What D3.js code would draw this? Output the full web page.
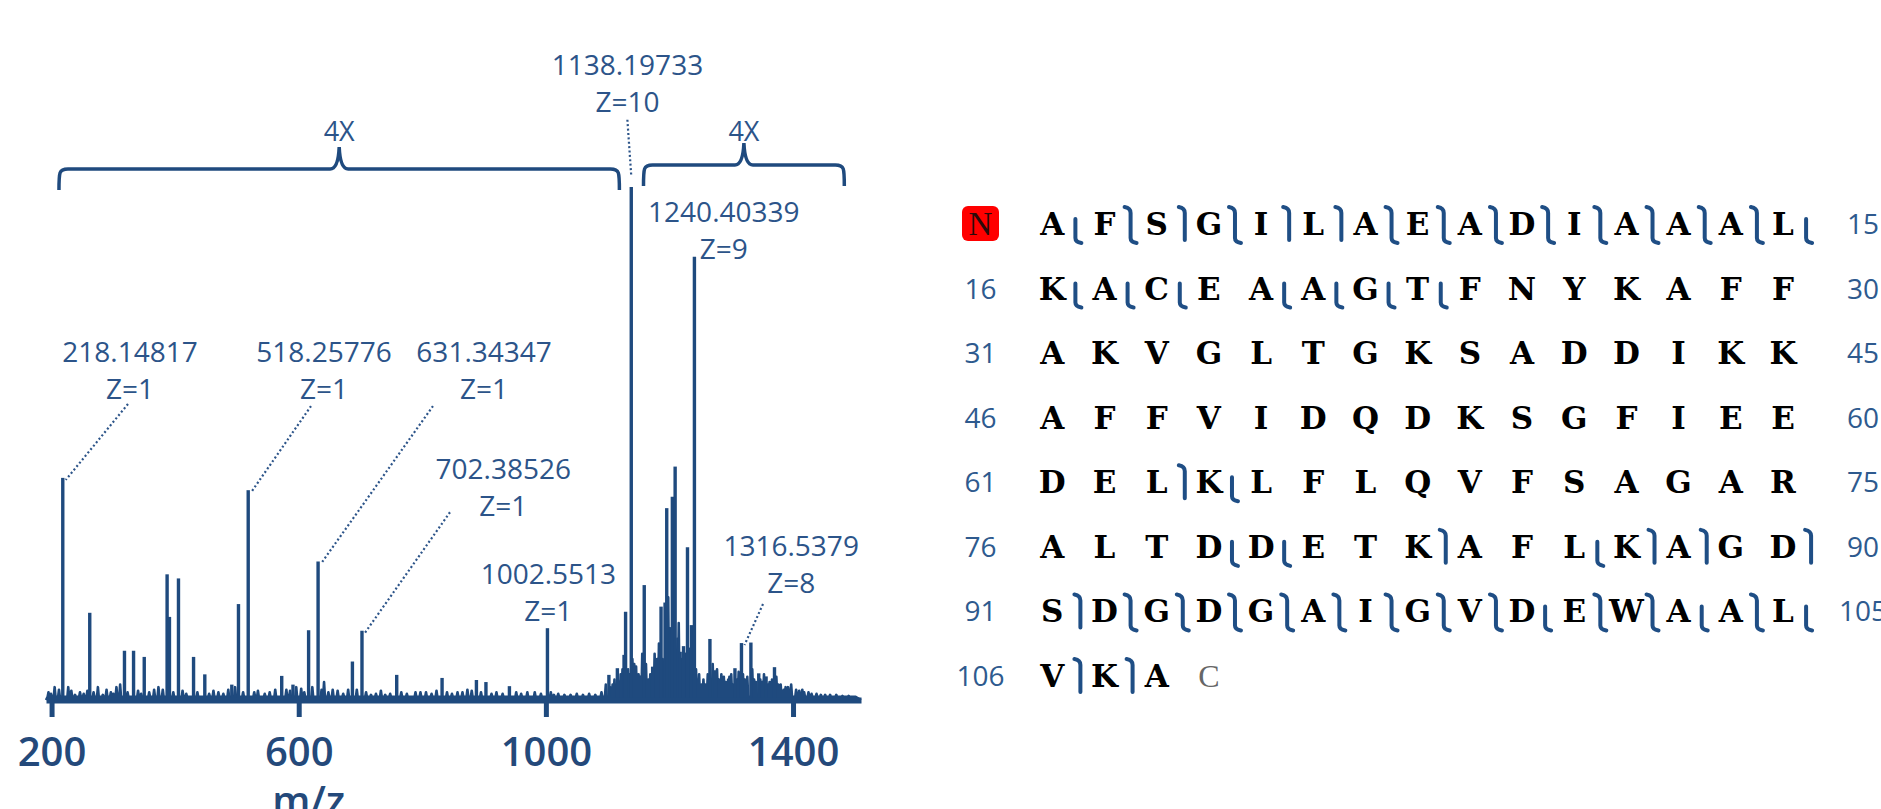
<!DOCTYPE html>
<html>
<head>
<meta charset="utf-8">
<script src="https://cdn.jsdelivr.net/npm/d3@7"></script>
<style>
  html, body { margin: 0; padding: 0; background: #fff; }
  svg { display: block; }
</style>
</head>
<body>
<div class="chart"></div>
<script>
var svgWidth = 1881;
var svgHeight = 809;

// ---- spectrum: centroid peaks (m/z, relative intensity %) ----
var peakMz = [218.148, 261.8, 318.0, 332.7, 350.0, 387.0, 390.8, 405.4, 429.8, 448.0,
  491.7, 502.5, 518.258, 572.5, 590.7, 616.0, 631.343, 686.9, 702.385, 758.6,
  832.0, 887.6, 903.0, 941.0, 1002.551, 1102.0, 1115.7, 1126.5, 1129.0, 1138.197,
  1159.2, 1172.8, 1186.4, 1192.9, 1195.6, 1204.7, 1209.2, 1217.3, 1222.8, 1229.2,
  1235.6, 1240.403, 1265.5, 1274.6, 1306.0, 1316.538, 1331.8, 1344.5, 1356.4, 1370.0];
var peakInt = [43.3, 17, 9.6, 9.6, 8.4, 24.5, 16.2, 23.7, 8.4, 5,
  3, 18.7, 40.9, 4.7, 3, 13.6, 27, 7.5, 13.5, 4.9,
  4.3, 3.9, 3.5, 2.7, 14, 4.9, 6.2, 8.8, 17.2, 100,
  22.4, 6.5, 18.2, 19, 37.4, 39.6, 45.5, 9.4, 10.5, 29.8,
  14.6, 86.4, 11.9, 5.8, 6.2, 11.1, 11.2, 5.2, 4.6, 6.4];

// small peaks of the noise floor
var noiseMz = [195, 199, 205, 212, 227, 232, 238, 246, 252, 258, 268, 275, 283, 289, 296,
  300, 305, 311, 323, 340, 345, 358, 366, 373, 380, 397, 412, 418, 436, 455,
  462, 470, 478, 486, 497, 510, 528, 534, 545, 553, 562, 580, 586, 596, 604,
  609, 622, 637, 641, 648, 655, 663, 672, 680, 694, 709, 717, 725, 733, 740,
  748, 766, 775, 789, 797, 806, 815, 823, 840, 848, 857, 865, 873, 880, 895,
  912, 920, 930, 952, 960, 970, 982, 992, 1008, 1013, 1020, 1030, 1040, 1050, 1060,
  1070, 1080, 1090, 1097, 1104, 1108, 1111, 1118, 1121, 1124, 1133, 1136, 1140, 1143, 1146,
  1150, 1153, 1156, 1162, 1166, 1169, 1176, 1180, 1183, 1189, 1198, 1201, 1207, 1213, 1215,
  1220, 1226, 1232, 1238, 1243, 1245, 1248, 1252, 1255, 1258, 1262, 1268, 1270, 1277, 1280,
  1284, 1288, 1291, 1295, 1297, 1300, 1303, 1309, 1312, 1319, 1322, 1326, 1334, 1337, 1340,
  1347, 1350, 1353, 1359, 1362, 1366, 1373, 1376, 1380, 1385, 1388, 1392, 1397, 1405, 1410,
  1415, 1418, 1425, 1430, 1438, 1445, 1452, 1460, 1470, 1480, 1490, 1500];
var noiseInt = [1.5, 1.2, 2.5, 2, 2.5, 1.8, 1, 1.5, 1.2, 1.8, 1.5, 2.5, 1, 2, 1.5,
  1.2, 2.5, 3, 1.5, 1.8, 1.2, 1.5, 2, 2.5, 2, 1.5, 1.8, 1.2, 1.5, 1.2,
  1.8, 1.5, 1.2, 2, 2.5, 1.5, 1.5, 1.8, 1.2, 1.5, 2, 2, 1.8, 2.5, 2.2,
  1.5, 2.5, 2, 3.5, 1.5, 2, 1.8, 1.2, 2, 2, 1.5, 1, 1.2, 1.8, 1,
  1.2, 1.5, 1.2, 1.5, 1.5, 1.5, 1.2, 1.8, 1.5, 1.2, 1.5, 1.5, 2, 1.8, 1.5,
  1.2, 1.5, 1.2, 1.5, 1.2, 1.5, 1.5, 1.2, 1.5, 1, 1.2, 1, 1, 1.2, 1,
  1.2, 1, 1.5, 3, 2.5, 3, 4, 3.5, 5, 6, 6, 5, 8, 7, 6.5,
  5, 4.5, 9, 7, 4, 5, 9, 8, 11, 8, 20, 14, 12, 12, 15,
  8, 9, 10, 7, 6, 4, 5, 3, 4, 3, 5, 4, 7, 6, 4,
  5, 4.5, 3.5, 4, 4.5, 5, 3, 4, 5.5, 5, 4, 4.5, 6, 4, 3.5,
  4, 3.5, 5, 3, 3.5, 4, 4.5, 3, 3, 2, 2.5, 2.5, 3, 2, 1.8,
  2, 1.5, 1.5, 1.2, 1.2, 1, 1, 1, 1, 0.8, 0.8, 0.6];

var xTicks = [200, 600, 1000, 1400];

// annotated peaks
var annoMz = [218.14817, 518.25776, 631.34347, 702.38526, 1002.5513, 1138.19733, 1240.40339, 1316.5379];
var annoInt = [43.3, 40.9, 27, 13.5, 14, 100, 86.4, 11.1];
var annoMass = ["218.14817", "518.25776", "631.34347", "702.38526", "1002.5513", "1138.19733", "1240.40339", "1316.5379"];
var annoZ = ["Z=1", "Z=1", "Z=1", "Z=1", "Z=1", "Z=10", "Z=9", "Z=8"];

// zoom brackets (m/z ranges)
var braceFrom = [212, 1158];
var braceTo = [1119, 1483];
var braceText = ["4X", "4X"];

// ---- sequence coverage map ----
var seqRows = ["AFSGILAEADIAAAL", "KACEAAGTFNYKAFF", "AKVGLTGKSADDIKK", "AFFVIDQDKSGFIEE",
  "DELKLFLQVFSAGAR", "ALTDDETKAFLKAGD", "SDGDGAIGVDEWAAL", "VKA"];
// after each residue: 0 none, 1 N-terminal fragment, 2 C-terminal fragment, 3 both
var cleaveRows = ["231311333333332", "222022220000000", "000000000000000", "000000000000000",
  "001200000000000", "000220010021101", "133333333233232", "110"];
var rowStartNum = ["N", "16", "31", "46", "61", "76", "91", "106"];
var rowEndNum = ["15", "30", "45", "60", "75", "90", "105", ""];

// ---- layout (annotation text anchors in data units) ----
var annoLabelAt = [[327, 65.9], [641, 65.9], [900, 65.9], [931, 43.1], [1004, 22.6], [1132, 121.8], [1288, 93.2], [1397, 28.1]];
var leaderFrom = [[323.7, 57.7], [619.9, 57.3], [817.3, 57.3], [844.8, 36.6], null, [1131.9, 113.1], null, [1351.4, 18.7]];

var blue = "#1f4a7e";
var textBlue = "#2c5489";

var svg = d3.select(".chart")
  .append("svg")
  .attr("width", svgWidth)
  .attr("height", svgHeight);

svg.append("rect").attr("width", svgWidth).attr("height", svgHeight).attr("fill", "#fff");

var x = d3.scaleLinear().domain([191, 1510]).range([46, 861]);
var y = d3.scaleLinear().domain([0, 100]).range([700, 187]);

// noise floor as one path of narrow spikes
var noisePeaks = d3.sort(noiseMz.map((m, i) => [m, noiseInt[i]]), d => d[0]);
var noisePts = [[191, 0]];
noisePeaks.forEach(function(p) {
  noisePts.push([p[0] - 1.4, 0.6], [p[0], p[1]], [p[0] + 1.4, 0.6]);
});
noisePts.push([1510, 0]);

svg.append("path")
  .attr("d", d3.line().x(d => x(d[0])).y(d => y(d[1]))(noisePts))
  .attr("fill", blue)
  .attr("stroke", blue)
  .attr("stroke-width", 2.6)
  .attr("stroke-linejoin", "round");

// peaks
svg.append("g").selectAll("line")
  .data(peakMz)
  .enter()
  .append("line")
  .attr("x1", d => x(d))
  .attr("x2", d => x(d))
  .attr("y1", y(0))
  .attr("y2", (d, i) => y(peakInt[i]))
  .attr("stroke", blue)
  .attr("stroke-width", 3.4);

// x axis
var xAxis = d3.axisBottom(x)
  .tickValues(xTicks)
  .tickSize(17)
  .tickSizeOuter(0)
  .tickFormat(d3.format("d"));

var axisG = svg.append("g")
  .attr("transform", `translate(0, ${y(0)})`)
  .call(xAxis);

axisG.select(".domain").attr("stroke", blue).attr("stroke-width", 6);
axisG.selectAll(".tick line").attr("stroke", blue).attr("stroke-width", 5);
axisG.selectAll(".tick text")
  .attr("y", 66)
  .attr("dy", 0)
  .attr("fill", "#24497a")
  .style("font-family", "'Open Sans', 'Noto Sans', sans-serif")
  .style("font-size", "40px")
  .style("font-weight", 600);

svg.append("text")
  .attr("x", x(616))
  .attr("y", 815)
  .attr("text-anchor", "middle")
  .attr("fill", "#24497a")
  .style("font-family", "'Open Sans', 'Noto Sans', sans-serif")
  .style("font-size", "40px")
  .style("font-weight", 600)
  .text("m/z");

// annotations
var annoFont = "'Open Sans', 'Noto Sans', sans-serif";
annoMz.forEach(function(m, i) {
  var lx = x(annoLabelAt[i][0]);
  var ly = y(annoLabelAt[i][1]);
  svg.append("text")
    .attr("x", lx).attr("y", ly)
    .attr("text-anchor", "middle")
    .attr("fill", textBlue)
    .style("font-family", annoFont)
    .style("font-size", "28px")
    .text(annoMass[i]);
  svg.append("text")
    .attr("x", lx).attr("y", ly + 37)
    .attr("text-anchor", "middle")
    .attr("fill", textBlue)
    .style("font-family", annoFont)
    .style("font-size", "28px")
    .text(annoZ[i]);
  if (leaderFrom[i]) {
    var endY = m > 1100 && m < 1200 ? y(annoInt[i]) - 11 : y(annoInt[i]) + 2;
    var endX = m > 1100 && m < 1200 ? x(m) : x(m) + 3;
    svg.append("line")
      .attr("x1", x(leaderFrom[i][0])).attr("y1", y(leaderFrom[i][1]))
      .attr("x2", endX).attr("y2", endY)
      .attr("stroke", textBlue)
      .attr("stroke-width", 2.2)
      .attr("stroke-dasharray", "2,2.4");
  }
});

// zoom brackets
var braceY = [169, 165];
braceFrom.forEach(function(f, i) {
  var x0 = x(f), x1 = x(braceTo[i]), xm = (x0 + x1) / 2;
  var yh = braceY[i], yend = yh + 21, ytip = yh - 22;
  var d = `M${x0},${yend} C${x0},${yh + 3} ${x0},${yh} ${x0 + 9},${yh}` +
    ` L${xm - 9},${yh} Q${xm - 1},${yh} ${xm},${ytip}` +
    ` Q${xm + 1},${yh} ${xm + 9},${yh} L${x1 - 9},${yh}` +
    ` C${x1},${yh} ${x1},${yh + 3} ${x1},${yend}`;
  svg.append("path")
    .attr("d", d)
    .attr("fill", "none")
    .attr("stroke", blue)
    .attr("stroke-width", 3.5);
  svg.append("text")
    .attr("x", xm).attr("y", 141)
    .attr("text-anchor", "middle")
    .attr("fill", textBlue)
    .style("font-family", annoFont)
    .style("font-size", "27px")
    .text(braceText[i]);
});

// ---- sequence panel ----
var col = d3.scaleLinear().domain([0, 14]).range([1052.3, 1783]);
var row = d3.scaleLinear().domain([0, 7]).range([224, 676]);
var pitch = col(1) - col(0);
var seqG = svg.append("g");

seqRows.forEach(function(s, r) {
  var cy = row(r);
  s.split("").forEach(function(aa, c) {
    seqG.append("text")
      .attr("x", col(c)).attr("y", cy + 11)
      .attr("text-anchor", "middle")
      .attr("fill", "#000")
      .style("font-family", "'DejaVu Serif', serif")
      .style("font-weight", "bold")
      .style("font-size", "31px")
      .text(aa);
    var code = +cleaveRows[r][c];
    if (code) {
      var gx = col(c) + pitch / 2;
      var d;
      if (code === 3) {
        d = `M${gx - 6},${cy - 17} Q${gx},${cy - 16} ${gx},${cy - 11} L${gx},${cy + 14} Q${gx},${cy + 18} ${gx + 6},${cy + 19}`;
      } else if (code === 1) {
        gx += 2;
        d = `M${gx - 6},${cy - 17} Q${gx},${cy - 16} ${gx},${cy - 11} L${gx},${cy + 16}`;
      } else {
        gx -= 3;
        d = `M${gx},${cy - 5} L${gx},${cy + 14} Q${gx},${cy + 18} ${gx + 6},${cy + 19}`;
      }
      seqG.append("path")
        .attr("d", d)
        .attr("fill", "none")
        .attr("stroke", "#1f4e85")
        .attr("stroke-width", 4)
        .attr("stroke-linecap", "round")
        .attr("stroke-linejoin", "round");
    }
  });

  var leftX = 980.5;
  if (rowStartNum[r] === "N") {
    seqG.append("rect")
      .attr("x", leftX - 18.5).attr("y", cy - 18)
      .attr("width", 37).attr("height", 35)
      .attr("rx", 6)
      .attr("fill", "#ff0000");
    seqG.append("text")
      .attr("x", leftX).attr("y", cy + 11)
      .attr("text-anchor", "middle")
      .attr("fill", "#2a0a0a")
      .style("font-family", "'Liberation Serif', serif")
      .style("font-size", "33px")
      .text("N");
  } else {
    seqG.append("text")
      .attr("x", leftX).attr("y", cy + 10)
      .attr("text-anchor", "middle")
      .attr("fill", "#2e5a8e")
      .style("font-family", annoFont)
      .style("font-size", "28px")
      .text(rowStartNum[r]);
  }
  if (rowEndNum[r]) {
    seqG.append("text")
      .attr("x", 1863).attr("y", cy + 10)
      .attr("text-anchor", "middle")
      .attr("fill", "#2e5a8e")
      .style("font-family", annoFont)
      .style("font-size", "28px")
      .text(rowEndNum[r]);
  }
});

// C terminus
seqG.append("text")
  .attr("x", col(3)).attr("y", row(7) + 11)
  .attr("text-anchor", "middle")
  .attr("fill", "#666")
  .style("font-family", "'Liberation Serif', serif")
  .style("font-size", "32px")
  .text("C");
</script>
</body>
</html>
